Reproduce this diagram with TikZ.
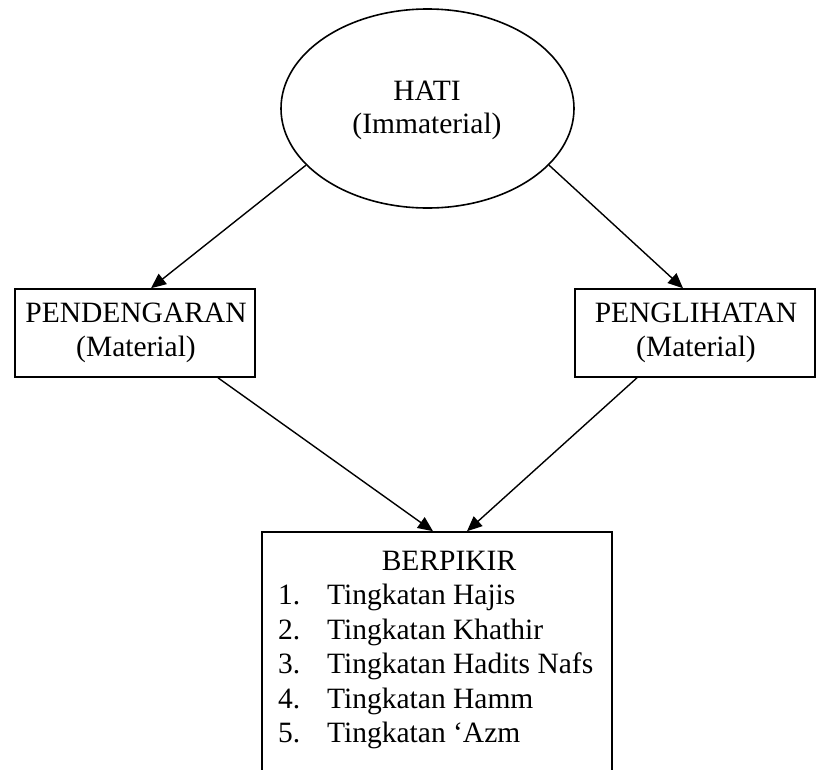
\documentclass[tikz,border=0pt]{standalone}
\usepackage{fontspec}
\setmainfont{Liberation Serif}
\usetikzlibrary{shapes.geometric,arrows.meta,calc}
\begin{document}
\begin{tikzpicture}[x=1pt,y=-1pt,
  arr/.style={line width=1.4pt,-{Triangle[length=15pt,width=13pt]}},
  txt/.style={font=\fontsize{29.5}{34.5}\selectfont, inner sep=0pt, anchor=base},
  item/.style={font=\fontsize{29.5}{34.5}\selectfont, inner sep=0pt, anchor=base west},
  box/.style={draw,line width=1.6pt,rectangle,inner sep=0pt,minimum width=240pt,minimum height=88pt}]
\useasboundingbox (0,0) rectangle (832,769);
\fill[white] (0,0) rectangle (832,769);
\clip (0,0) rectangle (832,769);
% HATI
\node[draw,line width=1.6pt,ellipse,minimum width=293pt,minimum height=199pt,inner sep=0pt] (hati) at (427.5,108.5) {};
\node[txt] (hati1) at (427,100) {HATI};
\node[txt] (hati2) at (427,133) {(Immaterial)};
% side boxes
\node[box] (pend) at (135,333) {};
\node[txt] (pend1) at (136,322) {PENDENGARAN};
\node[txt] (pend2) at (136,356) {(Material)};
\node[box] (peng) at (695,333) {};
\node[txt] (peng1) at (696,322) {PENGLIHATAN};
\node[txt] (peng2) at (696,356) {(Material)};
% bottom box (continues below the picture)
\node[draw,line width=1.6pt,rectangle,inner sep=0pt,minimum width=350pt,minimum height=268pt] (berp) at (437,666) {};
\node[txt] (b0) at (449,570) {BERPIKIR};
\node[item] (b1) at (278,604.5) {1.};
\node[item] (b1t) at (327,604.5) {Tingkatan Hajis};
\node[item] (b2) at (278,639) {2.};
\node[item] (b2t) at (327,639) {Tingkatan Khathir};
\node[item] (b3) at (278,673.5) {3.};
\node[item] (b3t) at (327,673.5) {Tingkatan Hadits Nafs};
\node[item] (b4) at (278,708) {4.};
\node[item] (b4t) at (327,708) {Tingkatan Hamm};
\node[item] (b5) at (278,742.5) {5.};
\node[item] (b5t) at (327,742.5) {Tingkatan ‘Azm};
% connectors
\draw[arr] (hati.205) -- ($(pend.north)+(16,0)$);
\draw[arr] (hati.335) -- ($(peng.north)+(-12,0)$);
\draw[arr] ($(pend.south)+(83,0)$) -- ($(berp.north)+(-4,0)$);
\draw[arr] ($(peng.south)+(-58,0)$) -- ($(berp.north)+(30,0)$);
\end{tikzpicture}
\end{document}
